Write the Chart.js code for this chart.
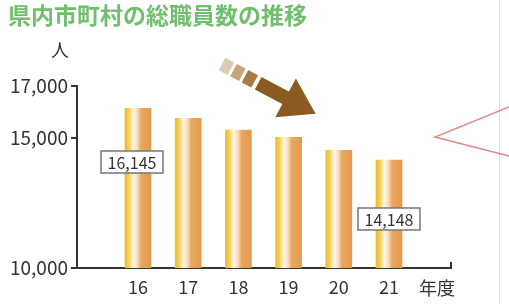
<!DOCTYPE html>
<html>
<head>
<meta charset="utf-8">
<script src="https://cdn.jsdelivr.net/npm/chart.js@4"></script>
<style>
  html, body { margin: 0; padding: 0; background: #fff; }
  #staff_chart { display: block; }
</style>
</head>
<body>
<canvas id="staff_chart" width="509" height="304"></canvas>
<script>
const title_text = '県内市町村の総職員数の推移';
const years = [16, 17, 18, 19, 20, 21];
const staff_counts = [16145, 15760, 15300, 15030, 14530, 14148];
const y_ticks = [10000, 15000, 17000];
const y_unit = '人';
const x_unit = '年度';
// which bars get a boxed value label
const boxed_labels = [0, 5];

const jp_font = "'Noto Sans CJK JP', 'Noto Sans', sans-serif";

function bar_gradient(ctx) {
    const chart = ctx.chart;
    if(!chart.chartArea || !chart.scales.x) {
        return '#e9a956';
    }
    const cx = chart.scales.x.getPixelForValue(years[ctx.dataIndex]);
    const g = chart.ctx.createLinearGradient(cx - 13, 0, cx + 13, 0);
    g.addColorStop(0, '#eebb2e');
    g.addColorStop(0.15, '#f5cf55');
    g.addColorStop(0.32, '#fff7e6');
    g.addColorStop(0.48, '#f7dcbc');
    g.addColorStop(0.62, '#eaa75e');
    g.addColorStop(1, '#e39a4c');
    return g;
}

const decor = {
    id: 'decor',
    afterDraw(chart) {
        const c = chart.ctx;
        const area = chart.chartArea;
        c.save();

        // title
        c.fillStyle = '#6fbf6c';
        c.font = 'bold 23px ' + jp_font;
        c.textBaseline = 'middle';
        c.textAlign = 'left';
        c.fillText(title_text, 8, 15);

        // units
        c.fillStyle = '#333';
        c.font = '18px ' + jp_font;
        c.textAlign = 'center';
        c.fillText(y_unit, 60, 50);
        c.fillText(x_unit, 437, 288);

        // small tick at right end of x axis
        c.strokeStyle = '#333';
        c.lineWidth = 2;
        c.beginPath();
        c.moveTo(area.right, area.bottom + 1);
        c.lineTo(area.right, area.bottom - 6);
        c.stroke();

        // boxed value labels
        const meta = chart.getDatasetMeta(0);
        c.font = '16px ' + jp_font;
        boxed_labels.forEach((i, n) => {
            const bar = meta.data[i];
            const cx = bar.x + (n === 0 ? -6 : 0);
            const cy = n === 0 ? 162 : 219;
            c.fillStyle = '#fff';
            c.fillRect(cx - 31, cy - 11, 62, 22);
            c.strokeStyle = '#777';
            c.lineWidth = 1.5;
            c.strokeRect(cx - 31, cy - 11, 62, 22);
            c.fillStyle = '#333';
            c.fillText(staff_counts[i].toLocaleString('en-US'), cx, cy + 1);
        });

        // trend arrow
        c.translate(222, 64);
        c.rotate(28 * Math.PI / 180);
        const squares = [[0, 10, '#dccdb2'], [13, 23, '#c6a77b'], [26, 37, '#a87b40']];
        squares.forEach(s => {
            c.fillStyle = s[2];
            c.fillRect(s[0], -7, s[1] - s[0], 14);
        });
        c.fillStyle = '#8b5a20';
        c.fillRect(41, -7, 32, 14);
        c.beginPath();
        c.moveTo(72, -22);
        c.lineTo(106, 0);
        c.lineTo(72, 22);
        c.closePath();
        c.fill();
        c.restore();

        // callout edge on the right
        c.save();
        c.strokeStyle = '#f3dada';
        c.lineWidth = 1;
        c.beginPath();
        c.moveTo(499.5, 0);
        c.lineTo(499.5, 304);
        c.stroke();
        c.strokeStyle = '#e0878a';
        c.lineWidth = 1.5;
        c.beginPath();
        c.moveTo(509, 107);
        c.lineTo(435, 137);
        c.lineTo(509, 156);
        c.stroke();
        c.restore();
    }
};

const chart = new Chart(document.getElementById('staff_chart'), {
    type: 'bar',
    data: {
        datasets: [{
            label: '総職員数',
            data: years.map((y, i) => ({ x: y, y: staff_counts[i] })),
            backgroundColor: bar_gradient,
            borderWidth: 0,
            barThickness: 26
        }]
    },
    options: {
        responsive: false,
        animation: false,
        devicePixelRatio: 1,
        layout: { padding: { top: 86, right: 58, left: 0, bottom: 0 } },
        plugins: {
            legend: { display: false },
            tooltip: { enabled: false }
        },
        scales: {
            x: {
                type: 'linear',
                offset: false,
                min: 14.785,
                max: 22.235,
                afterBuildTicks: s => { s.ticks = years.map(v => ({ value: v })); },
                afterFit: s => { s.height = 36; },
                ticks: {
                    callback: v => String(v),
                    color: '#333',
                    font: { size: 18, family: jp_font },
                    padding: 8,
                    autoSkip: false,
                    maxRotation: 0
                },
                grid: { drawOnChartArea: false, drawTicks: false, offset: false },
                border: { color: '#333', width: 2 }
            },
            y: {
                min: 10000,
                max: 17000,
                afterBuildTicks: s => { s.ticks = y_ticks.map(v => ({ value: v })); },
                afterFit: s => { s.width = 77; },
                ticks: {
                    callback: v => v.toLocaleString('en-US'),
                    color: '#333',
                    font: { size: 19, family: jp_font },
                    padding: 3
                },
                grid: { drawOnChartArea: false, tickLength: 6, color: '#333', lineWidth: 2 },
                border: { color: '#333', width: 2 }
            }
        }
    },
    plugins: [decor]
});
</script>
</body>
</html>
